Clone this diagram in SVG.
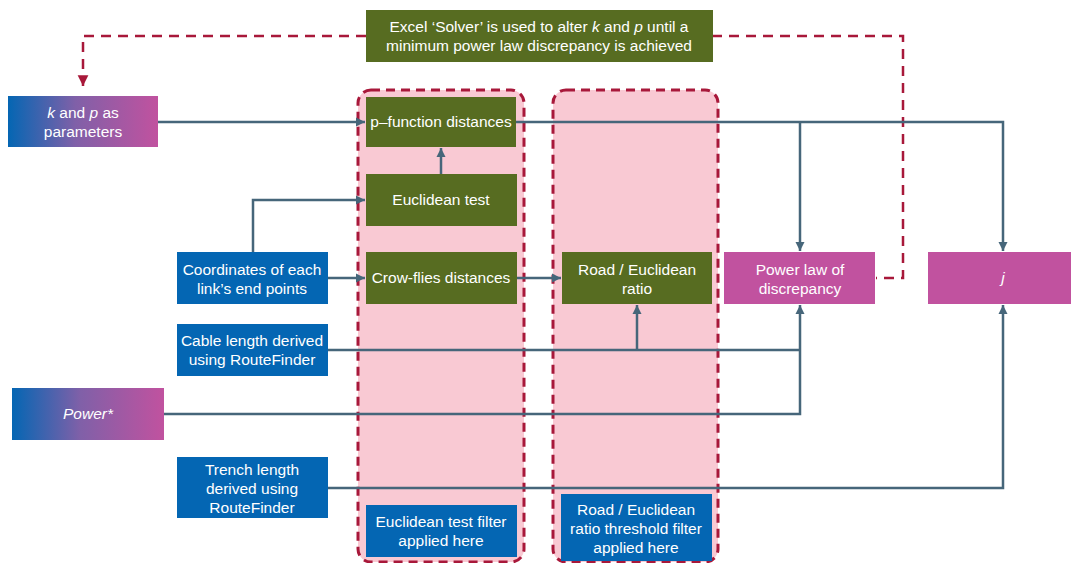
<svg xmlns="http://www.w3.org/2000/svg" width="1071" height="563" viewBox="0 0 1071 563">
<defs>
<linearGradient id="grad" x1="0" y1="0" x2="1" y2="0">
<stop offset="0" stop-color="#0466b3"/>
<stop offset="0.45" stop-color="#8060a8"/>
<stop offset="1" stop-color="#c1529f"/>
</linearGradient>
<marker id="arr" markerUnits="userSpaceOnUse" markerWidth="10" markerHeight="10" viewBox="0 0 10 10" refX="9" refY="5" orient="auto">
<path d="M0,0.5 L9,5 L0,9.5 Z" fill="#46667a"/>
</marker>
<marker id="arrR" markerUnits="userSpaceOnUse" markerWidth="12" markerHeight="12" viewBox="0 0 10 10" refX="9" refY="5" orient="auto">
<path d="M0,0.5 L9,5 L0,9.5 Z" fill="#a8183a"/>
</marker>
<style>
.cont{fill:#f9c9d3;stroke:#a8183a;stroke-width:3;stroke-dasharray:9,6}
.green{fill:#576c21}
.blue{fill:#0466b3}
.pink{fill:#c1529f}
.grad{fill:url(#grad)}
text{font-family:"Liberation Sans",Arial,sans-serif;font-size:15.5px;fill:#ffffff;text-anchor:middle}
.it{font-style:italic}
.conn{fill:none;stroke:#46667a;stroke-width:2.5}
.fb{fill:none;stroke:#a8183a;stroke-width:2.5;stroke-dasharray:10,7}
</style>
</defs>
<rect width="1071" height="563" fill="#ffffff"/>

<g id="containers">
<rect class="cont" x="358" y="90" width="166" height="472" rx="13"/>
<rect class="cont" x="553" y="90" width="165" height="472" rx="13"/>
</g>

<g id="connectors">
<path class="fb" d="M712,36 H903 V278 H876"/>
<path class="fb" d="M366,36 H83 V86" marker-end="url(#arrR)"/>
<path class="conn" d="M158,122 H365" marker-end="url(#arr)"/>
<path class="conn" d="M516,122 H1003 V251" marker-end="url(#arr)"/>
<path class="conn" d="M800,122 V251" marker-end="url(#arr)"/>
<path class="conn" d="M441,174 V148" marker-end="url(#arr)"/>
<path class="conn" d="M253,252 V200 H365" marker-end="url(#arr)"/>
<path class="conn" d="M328,278 H365" marker-end="url(#arr)"/>
<path class="conn" d="M517,278 H561" marker-end="url(#arr)"/>
<path class="conn" d="M328,350 H800"/>
<path class="conn" d="M637,350 V305" marker-end="url(#arr)"/>
<path class="conn" d="M164,414 H800 V305" marker-end="url(#arr)"/>
<path class="conn" d="M328,488 H1003 V305" marker-end="url(#arr)"/>
</g>

<g id="solver">
<rect class="green" x="366" y="10" width="347" height="52"/>
<text x="539" y="32">Excel ‘Solver’ is used to alter <tspan class="it">k</tspan> and <tspan class="it">p</tspan> until a</text>
<text x="539" y="51">minimum power law discrepancy is achieved</text>
</g>

<g id="kp">
<rect class="grad" x="8" y="96" width="150" height="51"/>
<text x="83" y="118"><tspan class="it">k</tspan> and <tspan class="it">p</tspan> as</text>
<text x="83" y="137">parameters</text>
</g>

<g id="pfunc">
<rect class="green" x="366" y="97" width="150" height="50"/>
<text x="441" y="127">p–function distances</text>
</g>

<g id="euctest">
<rect class="green" x="366" y="174" width="151" height="52"/>
<text x="441" y="205">Euclidean test</text>
</g>

<g id="crow">
<rect class="green" x="366" y="252" width="151" height="52"/>
<text x="441" y="283">Crow-flies distances</text>
</g>

<g id="coords">
<rect class="blue" x="177" y="252" width="151" height="52"/>
<text x="252" y="275">Coordinates of each</text>
<text x="252" y="294">link’s end points</text>
</g>

<g id="cable">
<rect class="blue" x="177" y="324" width="151" height="52"/>
<text x="252" y="346">Cable length derived</text>
<text x="252" y="365">using RouteFinder</text>
</g>

<g id="power">
<rect class="grad" x="12" y="388" width="152" height="52"/>
<text x="88" y="419" class="it">Power*</text>
</g>

<g id="trench">
<rect class="blue" x="177" y="457" width="151" height="61"/>
<text x="252" y="475">Trench length</text>
<text x="252" y="494">derived using</text>
<text x="252" y="513">RouteFinder</text>
</g>

<g id="road">
<rect class="green" x="562" y="252" width="150" height="52"/>
<text x="637" y="275">Road / Euclidean</text>
<text x="637" y="294">ratio</text>
</g>

<g id="powerlaw">
<rect class="pink" x="724" y="252" width="151" height="52"/>
<text x="800" y="275">Power law of</text>
<text x="800" y="294">discrepancy</text>
</g>

<g id="j">
<rect class="pink" x="928" y="252" width="150" height="52"/>
<text x="1003" y="283" class="it">j</text>
</g>

<g id="eucfilter">
<rect class="blue" x="366" y="505" width="151" height="52"/>
<text x="441" y="527">Euclidean test filter</text>
<text x="441" y="546">applied here</text>
</g>

<g id="roadfilter">
<rect class="blue" x="561" y="494" width="151" height="67"/>
<text x="636" y="515">Road / Euclidean</text>
<text x="636" y="534">ratio threshold filter</text>
<text x="636" y="553">applied here</text>
</g>
</svg>
